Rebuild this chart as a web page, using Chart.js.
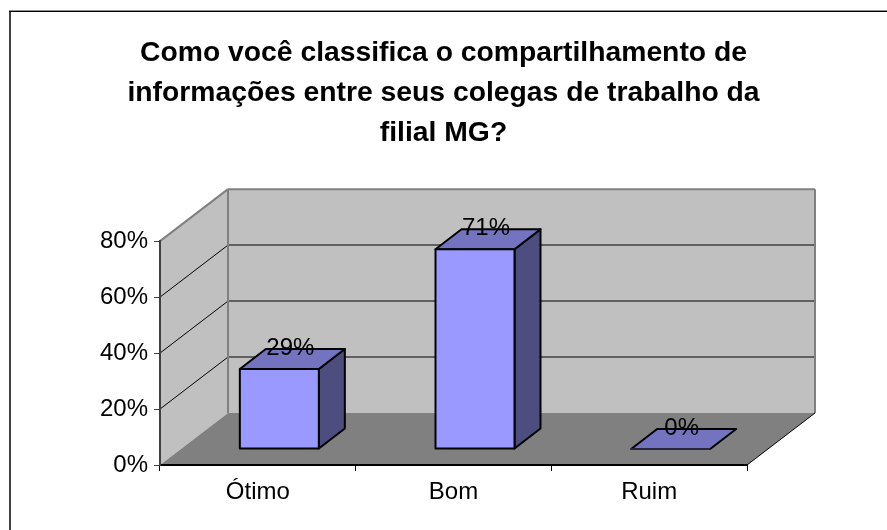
<!DOCTYPE html>
<html>
<head>
<meta charset="utf-8">
<script src="https://cdn.jsdelivr.net/npm/chart.js@4"></script>
<style>
  html, body { margin: 0; padding: 0; background: #fff; overflow: hidden; }
  #wrap { position: absolute; left: 0; top: 0; width: 887px; height: 530px; }
</style>
</head>
<body>
<div id="wrap"><canvas id="myChart"></canvas></div>
<script>
const titleLines = [
  'Como você classifica o compartilhamento de',
  'informações entre seus colegas de trabalho da',
  'filial MG?'
];
const categories = ['Ótimo', 'Bom', 'Ruim'];
const values = [28.6, 71.4, 0];
const yTicks = [0, 20, 40, 60, 80];

// the fake 3D box: how far the back wall and the bars are pushed
const wallDx = 68, wallDy = 52;
const barDx = 21.5, barDy = 16;
const depthDx = 26, depthDy = 20;

function poly(ctx, pts, fill, stroke, lw) {
  ctx.beginPath();
  pts.forEach((p, i) => i ? ctx.lineTo(p[0], p[1]) : ctx.moveTo(p[0], p[1]));
  ctx.closePath();
  if (fill) {
    ctx.fillStyle = fill;
    ctx.fill();
  }
  if (stroke) {
    ctx.strokeStyle = stroke;
    ctx.lineWidth = lw;
    ctx.stroke();
  }
}

function line(ctx, x1, y1, x2, y2, color, lw) {
  ctx.beginPath();
  ctx.moveTo(x1, y1);
  ctx.lineTo(x2, y2);
  ctx.strokeStyle = color;
  ctx.lineWidth = lw;
  ctx.stroke();
}

const box3d = {
  id: 'box3d',
  beforeDraw(chart) {
    const ctx = chart.ctx;
    const y = chart.scales.y;
    const l = chart.chartArea.left, r = chart.chartArea.right;
    const y0 = y.getPixelForValue(0), yTop = y.getPixelForValue(yTicks[yTicks.length - 1]);

    ctx.save();
    // side wall, back wall, floor
    poly(ctx, [[l, y0], [l + wallDx, y0 - wallDy], [l + wallDx, yTop - wallDy], [l, yTop]], '#c0c0c0');
    poly(ctx, [[l + wallDx, y0 - wallDy], [r + wallDx, y0 - wallDy], [r + wallDx, yTop - wallDy], [l + wallDx, yTop - wallDy]], '#c0c0c0');
    poly(ctx, [[l, y0], [r, y0], [r + wallDx, y0 - wallDy], [l + wallDx, y0 - wallDy]], '#808080');

    yTicks.forEach(t => {
      if (t === 0 || t === yTicks[yTicks.length - 1]) return;
      const py = y.getPixelForValue(t);
      line(ctx, l, py, l + wallDx, py - wallDy, '#000', 1);
      line(ctx, l + wallDx, py - wallDy, r + wallDx, py - wallDy, '#606060', 2);
    });

    line(ctx, l, yTop, l + wallDx, yTop - wallDy, '#808080', 2);
    line(ctx, l + wallDx, yTop - wallDy, r + wallDx, yTop - wallDy, '#808080', 2);
    line(ctx, l + wallDx, yTop - wallDy, l + wallDx, y0 - wallDy, '#808080', 2);
    line(ctx, r + wallDx, yTop - wallDy, r + wallDx, y0 - wallDy, '#808080', 2);
    line(ctx, r, y0, r + wallDx, y0 - wallDy, '#000', 1);

    // outer frame, only top and left in the original
    ctx.fillStyle = '#404040';
    ctx.fillRect(9, 10, 2, chart.height - 10);
    ctx.fillStyle = '#909090';
    ctx.fillRect(9, 10, chart.width - 9, 1);
    ctx.fillStyle = '#000';
    ctx.fillRect(9, 11, chart.width - 9, 1);
    ctx.restore();
  },
  beforeDatasetDraw(chart, args) {
    const ctx = chart.ctx;
    ctx.save();
    ctx.translate(barDx, -barDy);
    ctx.lineJoin = 'round';
    args.meta.data.forEach(bar => {
      const x0 = bar.x - bar.width / 2, x1 = bar.x + bar.width / 2;
      if (bar.base > bar.y) {
        poly(ctx, [[x1, bar.y], [x1 + depthDx, bar.y - depthDy], [x1 + depthDx, bar.base - depthDy], [x1, bar.base]], '#4d4d80', '#000', 2);
      }
      poly(ctx, [[x0, bar.y], [x0 + depthDx, bar.y - depthDy], [x1 + depthDx, bar.y - depthDy], [x1, bar.y]], '#7373bf', '#000', 2);
    });
  },
  afterDatasetDraw(chart, args) {
    const ctx = chart.ctx;
    // outline of the front faces, centred on the bar edges
    args.meta.data.forEach(bar => {
      if (bar.base > bar.y) {
        ctx.strokeStyle = '#000';
        ctx.lineWidth = 2;
        ctx.strokeRect(bar.x - bar.width / 2, bar.y, bar.width, bar.base - bar.y);
      }
    });
    ctx.restore();
  },
  afterDatasetsDraw(chart) {
    const ctx = chart.ctx;
    ctx.save();
    ctx.font = '24px "Liberation Sans"';
    ctx.fillStyle = '#000';
    ctx.textAlign = 'center';
    ctx.textBaseline = 'middle';
    chart.getDatasetMeta(0).data.forEach((bar, i) => {
      ctx.fillText(Math.round(values[i]) + '%', bar.x + barDx + depthDx / 2 - 2, bar.y - barDy - depthDy / 2 - 11);
    });
    ctx.restore();
  }
};

const config = {
  type: 'bar',
  data: {
    labels: categories,
    datasets: [{
      data: values,
      backgroundColor: '#9999ff',
      borderWidth: 0,
      barThickness: 79,
      clip: false
    }]
  },
  options: {
    responsive: true,
    maintainAspectRatio: false,
    animation: { duration: 0 },
    layout: {
      padding: { top: 33, left: 0, right: 0, bottom: 0 }
    },
    plugins: {
      legend: { display: false },
      tooltip: { enabled: false },
      title: {
        display: true,
        text: titleLines,
        color: '#000',
        font: { family: '"Liberation Sans"', size: 28.3, weight: 'bold', lineHeight: 1.415 },
        padding: { top: 0, bottom: 88 }
      }
    },
    scales: {
      x: {
        afterFit: s => { s.height = 65; },
        grid: { drawOnChartArea: false, drawTicks: true, tickLength: 6, color: '#000', offset: true },
        border: { color: '#000', width: 2 },
        ticks: { color: '#000', font: { family: '"Liberation Sans"', size: 24 }, padding: 7 }
      },
      y: {
        min: 0,
        max: 80,
        afterFit: s => { s.width = 160; },
        grid: { drawOnChartArea: false, drawTicks: true, tickLength: 6, color: '#404040' },
        border: { color: '#404040', width: 2 },
        ticks: {
          stepSize: 20,
          color: '#000',
          font: { family: '"Liberation Sans"', size: 24 },
          padding: 6,
          callback: v => v + '%'
        }
      },
      // empty axis, keeps room on the right for the back wall without moving the title
      yRight: {
        position: 'right',
        afterFit: s => { s.width = 140; },
        grid: { display: false },
        border: { display: false },
        ticks: { display: false }
      }
    }
  },
  plugins: [box3d]
};

const myChart = document.getElementById('myChart').getContext('2d');
const diagramChart = new Chart(myChart, config);
console.log(diagramChart.chartArea);
</script>
</body>
</html>
